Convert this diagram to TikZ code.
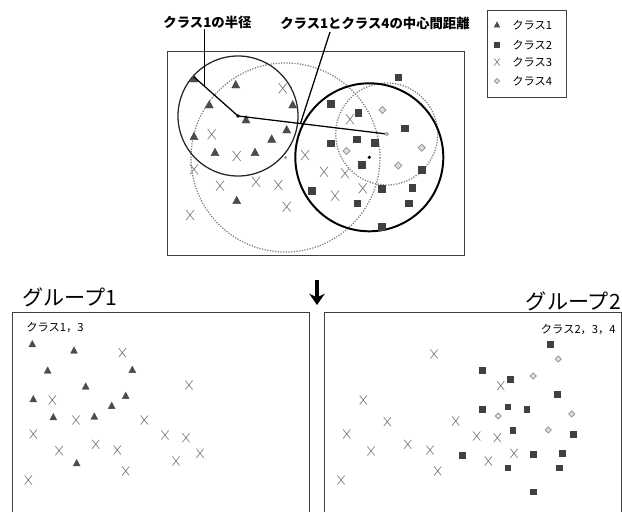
\documentclass[tikz,border=0pt]{standalone}
\usepackage{fontspec}
\setmainfont{Noto Sans CJK JP}
\usepackage{tikz}
\usetikzlibrary{arrows.meta,calc}

% markers
\tikzset{
tri/.pic={\filldraw[black!70,line width=0.3pt] (-4,3)--(4,3)--(0,-4.5)--cycle;},
sq/.pic={\filldraw[black!75,line width=0.3pt] (-3.3,-3.3) rectangle (3.3,3.3);},
crs/.pic={\draw[black!50,line width=0.5pt] (-4,-5)--(4,5) (-4,5)--(4,-5);},
dia/.pic={\draw[black!40,fill=black!12,line width=0.6pt] (0,-3.5)--(3.5,0)--(0,3.5)--(-3.5,0)--cycle;}
}

\begin{document}
\begin{tikzpicture}[
x=0.025cm, y=-0.025cm,
every node/.style={inner sep=0pt},
frame/.style={draw=black!75,line width=0.5pt},
ring1/.style={draw=black!85,line width=0.9pt},
ring2/.style={draw=black,line width=1.4pt},
ring3/.style={draw=black!50,densely dotted,line width=0.9pt},
ring4/.style={draw=black!50,densely dotted,line width=0.9pt},
ray/.style={draw=black,line width=0.9pt},
lead/.style={draw=black,line width=0.9pt},
lbl/.style={font=\fontsize{9.5}{10}\selectfont\bfseries},
leg/.style={font=\fontsize{8}{9}\selectfont,anchor=west},
grp/.style={font=\fontsize{15}{16}\selectfont},
cls/.style={font=\fontsize{8}{9}\selectfont},
flow/.style={line width=2.6pt,-{Stealth[length=8pt,width=11pt]}}
]
\useasboundingbox (0,0) rectangle (622,512);

% Frames
\draw[frame] (167,51) rectangle (464,255);
\draw[frame] (487,10) rectangle (566,97);
\draw[frame] (12,512) -- (12,312) -- (309,312) -- (309,512);
\draw[frame] (324,512) -- (324,312) -- (621,312) -- (621,512);

% Class centres and circles
\coordinate (c1) at (238,116);
\coordinate (c2) at (369.3,157.3);
\coordinate (c3) at (285.5,157.5);
\coordinate (c4) at (386.7,134);
\draw[ring3] (c3) circle[radius=94.5];
\draw[ring4] (c4) circle[radius=51];
\draw[ring1] (c1) circle[radius=60];
\draw[ring2] (c2) circle[radius=74];

% Top scatter
\foreach \x/\y in {194/79,235.7/85,292.7/105,209.3/105,246/120,286.7/130,271.7/139.3,
194/136.7,215/152.7,255/152.7,236.7/200.7}
\pic at (\x,\y) {tri};
\foreach \x/\y in {282.7/88.3,211.7/134.3,236.7/156,194/169.3,220/185.7,256/181.7,
278.3/185,286.7/206.7,190/215,305/155,324/171.7,345/173.3,335/195.7,350/119.3,362.7/188.3}
\pic at (\x,\y) {crs};
\foreach \x/\y in {331/104,358.3/112.7,331/143.3,356.7/139.3,375/142.7,361.7/165,
311.7/190.7,381.7/189,357.3/203.3,381.7/226.7,398.3/77.3,405/128.3,421.7/170,
412.3/187.7,409/203.3}
\pic at (\x,\y) {sq};
\foreach \x/\y in {382.5/110,346.5/151,398.3/165.5,421.7/147.7}
\pic at (\x,\y) {dia};

% Radius and centre distance
\coordinate (r1) at (193.7,76.7);
\draw[ray] (c1) -- (r1);
\draw[ray] (c1) -- (c4);
\fill (c1) circle[radius=1.8];
\fill (c2) circle[radius=1.8];
\fill[black!45] (c3) circle[radius=1.5];
\pic[scale=0.5] at (c4) {dia};

% Labels
\node[lbl] (lblrad) at (207.5,22.5) {クラス1の半径};
\node[lbl] (lbldist) at (375,23.5) {クラス1とクラス4の中心間距離};
\coordinate (rmid) at ($(c1)!0.75!(r1)$);
\draw[lead] (lblrad.south -| rmid) -- (rmid);
\coordinate (dmid) at ($(c1)!0.42!(c4)$);
\coordinate (dtop) at (330,32);
\draw[lead] (dtop) -- (dmid);

% Legend
\pic[scale=0.7] at (497,25) {tri};
\pic[scale=0.7] at (497,45) {sq};
\pic[scale=0.7] at (497,62) {crs};
\pic[scale=0.7] at (497,81) {dia};
\node[leg] (leg1) at (512,25) {クラス1};
\node[leg] (leg2) at (512,45) {クラス2};
\node[leg] (leg3) at (512,62) {クラス3};
\node[leg] (leg4) at (512,81) {クラス4};

% Split arrow
\coordinate (atop) at (317,280);
\coordinate (abot) at (317,305);
\draw[flow] (atop) -- (abot);

% Groups
\node[grp,anchor=west] (g1) at (22,297) {グループ1};
\node[grp,anchor=east] (g2) at (621,301) {グループ2};
\node[cls,anchor=west] (g1cls) at (26,328) {クラス1，3};
\node[cls,anchor=east] (g2cls) at (616,330) {クラス2，3，4};

% Group 1 scatter
\foreach \x/\y in {32.3/344.3,74/350.7,47.7/370.7,132.3/370,85.7/386.7,125.7/396,
33.3/399.3,111.7/406,53.3/417.3,94.3/416.7,76.7/463.3}
\pic[scale=0.85] at (\x,\y) {tri};
\foreach \x/\y in {122.3/352.7,189/385,52.3/400,76/420,144.3/420,33.3/434,165/435,
186/437.7,59/450.7,95.7/444.3,117.3/450,200/453.3,176/461,125.7/471,28.3/480}
\pic[scale=0.9] at (\x,\y) {crs};

% Group 2 scatter
\foreach \x/\y in {550/344,482.3/370,510/379,557.3/394.3,482.3/409.3,507.7/406.7,
526.7/409,512.7/430,573.3/434.3,462.3/455,533.3/454,562.3/453.3,507.7/467.7,
559.3/467.7,533.3/491.7}
\pic[scale=0.9] at (\x,\y) {sq};
\foreach \x/\y in {558.3/359,533.3/376,571.7/414,498.3/416,548.3/430}
\pic[scale=0.85] at (\x,\y) {dia};
\foreach \x/\y in {434/354,500.7/385.7,363.3/400,387.3/421.7,455.7/421,346.7/434,
476.7/436,497.3/437.7,371/451,407.7/444.3,430/450,514/453.3,488.3/461,437.7/471,341/480}
\pic[scale=0.9] at (\x,\y) {crs};

\end{tikzpicture}
\end{document}
